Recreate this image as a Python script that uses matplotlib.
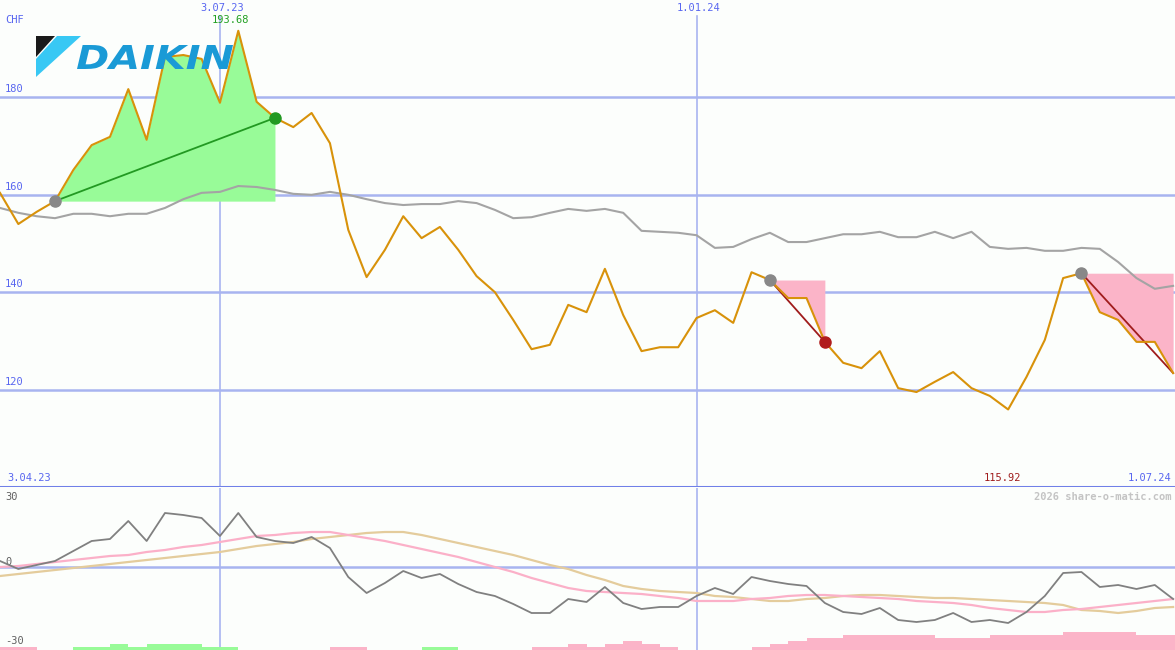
#!/usr/bin/env python3

import numpy as np
import matplotlib
matplotlib.use('Agg')
import matplotlib.pyplot as plt
from matplotlib.patches import Polygon, PathPatch
from matplotlib.textpath import TextPath
from matplotlib.font_manager import FontProperties
from matplotlib.transforms import Affine2D, IdentityTransform
from matplotlib import rcParams
rcParams['font.family'] = 'DejaVu Sans Mono'

# weekly closing prices (CHF), week 0 .. 64
price = [160.4, 154.0, 156.5, 158.7, 165.1, 170.2, 171.9, 181.7, 171.3, 188.3,
         188.7, 187.9, 178.9, 193.68, 179.1, 175.8, 173.9, 176.8, 170.6, 152.8,
         143.1, 148.7, 155.6, 151.1, 153.4, 148.7, 143.3, 140.0, 134.3, 128.3,
         129.2, 137.4, 135.9, 144.8, 135.3, 127.9, 128.7, 128.7, 134.7, 136.3,
         133.7, 144.1, 142.5, 138.8, 138.8, 129.8, 125.5, 124.4, 127.9, 120.3,
         119.5, 121.6, 123.6, 120.3, 118.7, 115.92, 122.6, 130.2, 142.9, 143.9,
         135.9, 134.3, 129.8, 129.8, 123.4]

# long moving average
ma = [157.3, 156.3, 155.6, 155.2, 156.1, 156.1, 155.6, 156.1, 156.1, 157.3,
      159.1, 160.4, 160.6, 161.8, 161.6, 161.0, 160.2, 160.0, 160.6, 160.0,
      159.1, 158.3, 157.9, 158.1, 158.1, 158.7, 158.3, 156.9, 155.2, 155.4,
      156.3, 157.1, 156.7, 157.1, 156.3, 152.6, 152.4, 152.2, 151.7, 149.1,
      149.3, 150.9, 152.2, 150.3, 150.3, 151.1, 151.9, 151.9, 152.4, 151.3,
      151.3, 152.4, 151.1, 152.4, 149.3, 148.9, 149.1, 148.5, 148.5, 149.1,
      148.9, 146.2, 142.9, 140.7, 141.3]

# oscillator panel
osc = [2.4, -0.8, 0.8, 2.4, 6.4, 10.4, 11.2, 18.4, 10.4, 21.6,
       20.8, 19.6, 12.4, 21.6, 12.0, 10.4, 9.6, 12.0, 7.6, -4.0,
       -10.4, -6.4, -1.6, -4.4, -2.8, -6.8, -10.0, -11.6, -14.8, -18.4,
       -18.4, -12.8, -14.0, -8.0, -14.4, -16.8, -16.0, -16.0, -11.6, -8.4,
       -10.8, -4.0, -5.6, -6.8, -7.6, -14.4, -18.0, -18.8, -16.4, -21.2,
       -22.0, -21.2, -18.4, -22.0, -21.2, -22.4, -18.0, -11.6, -2.4, -2.0,
       -8.0, -7.2, -8.8, -7.2, -12.8]
osc_fast = [0.0, 0.4, 1.2, 2.0, 2.8, 3.6, 4.4, 4.8, 6.0, 6.8,
            8.0, 8.8, 10.0, 11.2, 12.4, 12.8, 13.6, 14.0, 14.0, 12.8,
            11.6, 10.4, 8.8, 7.2, 5.6, 4.0, 2.0, 0.0, -2.0, -4.4,
            -6.4, -8.4, -9.6, -10.0, -10.4, -10.8, -11.6, -12.4, -13.6, -13.6,
            -13.6, -12.8, -12.4, -11.6, -11.2, -11.2, -11.6, -12.0, -12.4, -12.8,
            -13.6, -14.0, -14.4, -15.2, -16.4, -17.2, -18.0, -18.0, -17.2, -16.8,
            -16.0, -15.2, -14.4, -13.6, -12.8]
osc_slow = [-3.6, -2.8, -2.0, -1.2, -0.4, 0.4, 1.2, 2.0, 2.8, 3.6,
            4.4, 5.2, 6.0, 7.2, 8.4, 9.2, 10.0, 11.2, 12.0, 12.8,
            13.6, 14.0, 14.0, 12.8, 11.2, 9.6, 8.0, 6.4, 4.8, 2.8,
            0.8, -0.8, -3.2, -5.2, -7.6, -8.8, -9.6, -10.0, -10.4, -11.6,
            -12.0, -12.8, -13.6, -13.6, -12.8, -12.4, -11.6, -11.2, -11.2, -11.6,
            -12.0, -12.4, -12.4, -12.8, -13.2, -13.6, -14.0, -14.4, -15.2, -17.2,
            -17.6, -18.4, -17.6, -16.4, -16.0]
# trend strength bars (positive = green, negative = pink)
trend = [-1, -1, 0, 0, 1, 1, 2, 1, 2, 2,
         2, 1, 1, 0, 0, 0, 0, 0, -1, -1,
         0, 0, 0, 1, 1, 0, 0, 0, 0, -1,
         -1, -2, -1, -2, -3, -2, -1, 0, 0, 0,
         0, -1, -2, -3, -4, -4, -5, -5, -5, -5,
         -5, -4, -4, -4, -5, -5, -5, -5, -6, -6,
         -6, -6, -5, -5, -5]

# signals: (start week, end week)
up_trades = [(3, 15)]
down_trades = [(42, 45), (59, 64)]
date_marks = [(12, '3.07.23'), (38, '1.01.24')]
start_label = '3.04.23'
end_label = '1.07.24'
price_ticks = [120, 140, 160, 180]

W, H = 1175, 650
bg = '#fcfefc'
grid_c = '#a8b4f0'
blue_txt = '#5866f0'
x = np.arange(len(price))
xmax = W / 18.33
lx = 0.28  # left text inset in weeks

fig = plt.figure(figsize=(W / 100, H / 100), dpi=100, facecolor=bg)
ax = fig.add_axes([0, 163 / H, 1, 487 / H])
ax2 = fig.add_axes([0, 0, 1, 162 / H])
for a in (ax, ax2):
    a.set_facecolor(bg)
    a.set_xlim(0, xmax)
    a.set_xticks([])
    a.set_yticks([])
    for s in a.spines.values():
        s.set_visible(False)
ax.set_ylim(100, 200)
ax2.set_ylim(-33.2, 31.6)

# logo (behind data), pixel coords from top-left
def px(xp, yp):
    return (xp / W, 1 - yp / H)
fig.patches.append(Polygon([px(36, 36), px(55, 36), px(36, 57)], closed=True,
                           facecolor='#1a1a1a', transform=fig.transFigure, zorder=0.5))
fig.patches.append(Polygon([px(57, 36), px(81, 36), px(36, 77), px(36, 59)], closed=True,
                           facecolor='#38c8f4', transform=fig.transFigure, zorder=0.5))
tp = TextPath((0, 0), 'DAIKIN', size=30,
              prop=FontProperties(family='DejaVu Sans', weight='bold', style='italic'))
ext = tp.get_extents()
bx0, bx1, by0, by1 = 77, 233, H - 69, H - 45
tr_logo = (Affine2D().translate(-ext.x0, -ext.y0)
           .scale((bx1 - bx0) / ext.width, (by1 - by0) / ext.height)
           .translate(bx0, by0))
fig.patches.append(PathPatch(tr_logo.transform_path(tp), facecolor='#1a9ad6', lw=0,
                             transform=IdentityTransform(), zorder=0.6))

# grid
for v in price_ticks:
    ax.axhline(v, color=grid_c, lw=1.8, zorder=1)
    ax.text(lx, v + 0.6, str(v), color=blue_txt, fontsize=7.5, va='bottom', ha='left')
ax2.axhline(0, color=grid_c, lw=1.8, zorder=1)
for i, lab in date_marks:
    ax.axvline(i, ymax=1 - 16 / 487, color=grid_c, lw=1.2, zorder=1)
    ax2.axvline(i, color=grid_c, lw=1.2, zorder=1)
    ax.text(i + 0.12, 198.35, lab, color=blue_txt, fontsize=7.5, ha='center', va='center')
ax.axhline(100.1, color='#7080e8', lw=2.2, zorder=5)

# trade fills
for s, e in up_trades:
    xs = x[s:e + 1]
    ax.fill_between(xs, price[s], price[s:e + 1], color='#98fb98', lw=0, zorder=2)
    ax.plot([s, e], [price[s], price[e]], color='#229922', lw=1.3, zorder=4)
    ax.plot(s, price[s], 'o', color='#888888', ms=8, zorder=5)
    ax.plot(e, price[e], 'o', color='#229922', ms=8, zorder=5)
for s, e in down_trades:
    xs = x[s:e + 1]
    ax.fill_between(xs, price[s], price[s:e + 1], color='#fbb4c8', lw=0, zorder=2)
    ax.plot([s, e], [price[s], price[e]], color='#a01c1c', lw=1.3, zorder=4)
    ax.plot(s, price[s], 'o', color='#888888', ms=8, zorder=5)
    if e < len(price) - 1:
        ax.plot(e, price[e], 'o', color='#b01c1c', ms=8, zorder=5)

ax.plot(x, ma, color='#a4a4a4', lw=1.5, zorder=3)
ax.plot(x, price, color='#d8920a', lw=1.5, zorder=4)

# max / min labels
imax = int(np.argmax(price))
imin = int(np.argmin(price))
ax.text(imax - 0.4, 195.9, '%.2f' % price[imax], color='#22a022', fontsize=7.5, ha='center', va='center')
ax.text(imin - 0.3, 101.8, '%.2f' % price[imin], color='#a01c1c', fontsize=7.5, ha='center', va='center')
ax.text(0.4, 101.8, start_label, color=blue_txt, fontsize=7.5, ha='left', va='center')
ax.text(xmax - 0.2, 101.8, end_label, color=blue_txt, fontsize=7.5, ha='right', va='center')
ax.text(lx, 195.9, 'CHF', color=blue_txt, fontsize=7.5, ha='left', va='center')

# lower panel
bot = -33.2
tr = np.array(trend)
cols = ['#98fb98' if t > 0 else '#fbb4c8' for t in tr]
ax2.bar(x, np.abs(tr) * 1.2, width=1.0, bottom=bot, align='edge', color=cols, lw=0, zorder=2)
ax2.plot(x, osc_slow, color='#e4cc9c', lw=1.6, zorder=3)
ax2.plot(x, osc_fast, color='#fbb0c8', lw=1.6, zorder=3)
ax2.plot(x, osc, color='#808080', lw=1.3, zorder=4)
ax2.text(lx, 28.2, '30', color='#606060', fontsize=7.5, ha='left', va='center')
ax2.text(lx, 2.0, '0', color='#606060', fontsize=7.5, ha='left', va='center')
ax2.text(lx, -29.6, '-30', color='#606060', fontsize=7.5, ha='left', va='center')
ax2.text(xmax - 0.2, 28.2, '2026 share-o-matic.com', color='#c4c4c4', fontsize=7.5,
         fontweight='bold', ha='right', va='center')

fig.savefig('out.png', dpi=100, facecolor=bg)
